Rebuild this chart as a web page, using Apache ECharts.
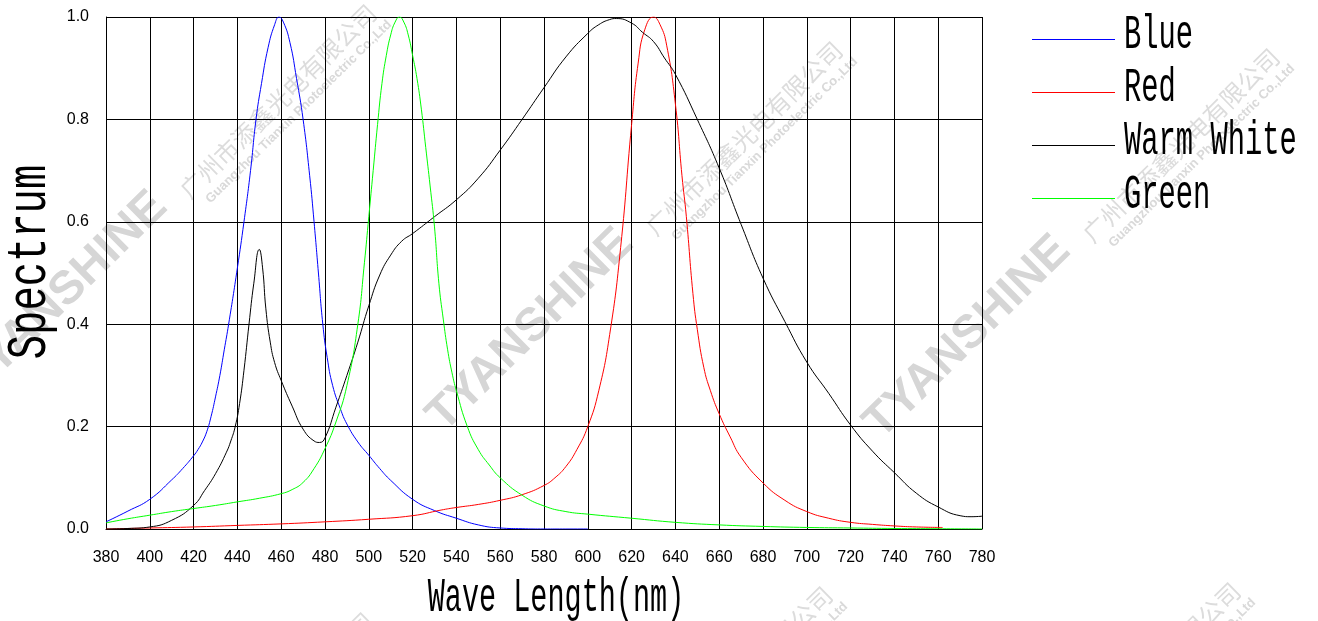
<!DOCTYPE html>
<html>
<head>
<meta charset="utf-8">
<script src="https://cdn.jsdelivr.net/npm/echarts/dist/echarts.min.js"></script>
<style>html,body{margin:0;padding:0;background:#fff}#c{width:1318px;height:621px}</style>
</head>
<body>
<div id="c"></div>
<script>
// ---- data ----
const seriesNames = ['Blue', 'Red', 'Warm White', 'Green'];
const seriesColors = ['#0000ff', '#ff0000', '#000000', '#00ff00'];

const blueNm  = [380,390,400,410,415,420,422,424,426,428,430,432,434,436,440,443,446,448.5,451,454,457,459,461,464,467,470,473,475,477,479,481,483.5,487,490,495,500,505,510,520,530,540,550,560,570,580,590,600];
const blueVal = [0.014,0.035,0.058,0.096,0.118,0.143,0.155,0.17,0.19,0.22,0.258,0.3,0.35,0.4,0.51,0.6,0.7,0.8,0.87,0.94,0.985,1.0,0.99,0.95,0.88,0.80,0.69,0.60,0.50,0.40,0.335,0.28,0.235,0.205,0.17,0.144,0.118,0.095,0.058,0.036,0.021,0.008,0.002,0.0005,0,0,0];

const redNm  = [380,400,420,440,460,480,500,520,533,540,550,560,570,580,585,590,595,600,605,610,615,620,623,626,630,633,636,640,643,645,648,650,653,656,660,665,670,680,690,700,710,720,730,740,750,762];
const redVal = [0,0.002,0.004,0.007,0.010,0.014,0.019,0.026,0.037,0.042,0.048,0.056,0.067,0.085,0.1,0.122,0.155,0.20,0.27,0.38,0.55,0.79,0.91,0.975,1.0,0.985,0.945,0.83,0.69,0.61,0.46,0.39,0.315,0.27,0.225,0.18,0.14,0.09,0.056,0.034,0.021,0.013,0.009,0.006,0.004,0.003];

const warmNm  = [380,390,400,410,420,425,430,435,437,439,441,443,445.3,447.5,450,451.5,453,455,457,460,465,470,475,477.5,480,485,490,495,500,505,510,515,520,530,540,550,560,570,580,590,600,605,610,613,620,625,630,635,640,650,660,670,680,690,700,710,720,730,740,750,760,770,775,780];
const warmVal = [0,0.001,0.004,0.017,0.046,0.075,0.108,0.15,0.172,0.2,0.245,0.31,0.40,0.48,0.546,0.51,0.43,0.365,0.325,0.29,0.24,0.195,0.172,0.169,0.178,0.238,0.30,0.365,0.436,0.496,0.535,0.562,0.577,0.61,0.643,0.685,0.74,0.80,0.862,0.922,0.968,0.985,0.995,0.997,0.988,0.97,0.952,0.92,0.888,0.80,0.705,0.595,0.49,0.405,0.326,0.265,0.203,0.152,0.11,0.07,0.043,0.026,0.024,0.025];

const greenNm  = [380,390,400,410,420,430,440,450,460,465,470,475,480,485,490,495,498,500,502,504,506,508,510,512,514,516,518,520,522,524,526,528,530,532,534,536,538,540,545,550,555,560,570,580,590,600,620,640,660,680,700,720,740,760,780];
const greenVal = [0.012,0.02,0.027,0.034,0.04,0.046,0.053,0.06,0.069,0.077,0.091,0.118,0.157,0.209,0.28,0.40,0.52,0.61,0.70,0.79,0.87,0.925,0.965,0.99,1.0,0.99,0.965,0.925,0.88,0.82,0.745,0.67,0.59,0.48,0.41,0.35,0.305,0.27,0.2,0.155,0.125,0.10,0.066,0.045,0.034,0.029,0.021,0.013,0.008,0.005,0.003,0.002,0.001,0.0005,0];

const xRange = [380, 780];   // Wave Length (nm)
const xStep = 20;
const yRange = [0, 1];       // Spectrum
const yStep = 0.2;

const xTitle = 'Wave Length(nm)';
const yTitle = 'Spectrum';
const wmBrand = 'TYANSHINE';
const wmCn = '广州市添鑫光电有限公司';
const wmEn = 'Guangzhou Tianxin Photoelectric Co.,Ltd';

// ---- build ----
const zip = (a, b) => a.map((v, i) => [v, b[i]]);
const allData = [zip(blueNm, blueVal), zip(redNm, redVal), zip(warmNm, warmVal), zip(greenNm, greenVal)];

const ang = 44.5 * Math.PI / 180;
const ux = Math.cos(ang), uy = -Math.sin(ang);   // along text
const dx = Math.sin(ang), dy = Math.cos(ang);    // "down" perpendicular
function wm(px, py) {
  const els = [];
  els.push({
    type: 'text', x: px + 10 * ux - 17 * dx, y: py + 10 * uy - 17 * dy, rotation: ang, z: -10, silent: true,
    style: { text: wmBrand, fontFamily: 'Liberation Sans', fontWeight: 'bold', fontSize: 47,
      fill: '#d6d6d6', align: 'left', verticalAlign: 'middle', textAlign: 'left', textVerticalAlign: 'middle' }
  });
  const cx = px + 212 - 3 * dx, cy = py - 210 - 3 * dy;
  els.push({
    type: 'text', x: cx, y: cy, rotation: ang, z: -10, silent: true,
    style: { text: wmCn, fontFamily: 'Noto Sans CJK SC', fontSize: 24,
      fill: '#dcdcdc', align: 'left', verticalAlign: 'middle', textAlign: 'left', textVerticalAlign: 'middle' }
  });
  els.push({
    type: 'text', x: cx + 12 * ux + 22 * dx, y: cy + 12 * uy + 22 * dy, rotation: ang, z: -10, silent: true,
    style: { text: wmEn, fontFamily: 'Liberation Sans', fontWeight: 'bold', fontSize: 13,
      fill: '#d9d9d9', align: 'left', verticalAlign: 'middle', textAlign: 'left', textVerticalAlign: 'middle' }
  });
  return els;
}
const wmPos = [[-26, 406], [440, 443], [877, 450], [-29, 1014], [430, 988], [838, 984]];

const graphics = [];
wmPos.forEach(p => graphics.push(...wm(p[0], p[1])));

// axis titles (condensed tall serif look)
graphics.push({
  type: 'text', x: 556, y: 598, scaleX: 1, scaleY: 1.7, z: 10,
  style: { text: xTitle, fontFamily: 'Liberation Mono', fontSize: 28.5, fill: '#000',
    align: 'center', verticalAlign: 'middle', textAlign: 'center', textVerticalAlign: 'middle' }
});
graphics.push({
  type: 'text', x: 30, y: 262, rotation: Math.PI / 2, scaleX: 1, scaleY: 1.37, z: 10,
  style: { text: yTitle, fontFamily: 'Liberation Mono', fontSize: 40.5, fill: '#000',
    align: 'center', verticalAlign: 'middle', textAlign: 'center', textVerticalAlign: 'middle' }
});

// legend
const legendLineY = [39.5, 92.5, 145.5, 198.5];
const legendTextY = [35, 88, 141.5, 195];
seriesNames.forEach((n, i) => {
  graphics.push({
    type: 'line', z: 10, shape: { x1: 1032, y1: legendLineY[i], x2: 1115, y2: legendLineY[i] },
    style: { stroke: seriesColors[i], lineWidth: 1 }
  });
  graphics.push({
    type: 'text', x: 1124, y: legendTextY[i], scaleX: 1, scaleY: 1.7, z: 10,
    style: { text: n, fontFamily: 'Liberation Mono', fontSize: 28.8, fill: '#000',
      align: 'left', verticalAlign: 'middle', textAlign: 'left', textVerticalAlign: 'middle' }
  });
});

const chart = echarts.init(document.getElementById('c'), null, { renderer: 'canvas' });
chart.setOption({
  backgroundColor: '#ffffff',
  animation: false,
  grid: { left: 106, right: 336, top: 17, bottom: 92, containLabel: false },
  xAxis: {
    type: 'value', min: xRange[0], max: xRange[1], interval: xStep,
    axisLine: { show: true, onZero: false, lineStyle: { color: '#000', width: 1 } },
    axisTick: { show: false },
    axisLabel: { color: '#000', fontFamily: 'Liberation Sans', fontSize: 16, margin: 21 },
    splitLine: { show: true, lineStyle: { color: '#000', width: 1 } }
  },
  yAxis: {
    type: 'value', min: yRange[0], max: yRange[1], interval: yStep,
    axisLine: { show: true, lineStyle: { color: '#000', width: 1 } },
    axisTick: { show: false },
    axisLabel: { color: '#000', fontFamily: 'Liberation Sans', fontSize: 16, margin: 17,
      formatter: v => v.toFixed(1) },
    splitLine: { show: true, lineStyle: { color: '#000', width: 1 } }
  },
  graphic: { elements: graphics },
  series: seriesNames.map((n, i) => ({
    name: n, type: 'line', data: allData[i], showSymbol: false, smooth: 0.5,
    lineStyle: { color: seriesColors[i], width: 1 }, itemStyle: { color: seriesColors[i] },
    z: 3 + i
  }))
});
</script>
</body>
</html>
